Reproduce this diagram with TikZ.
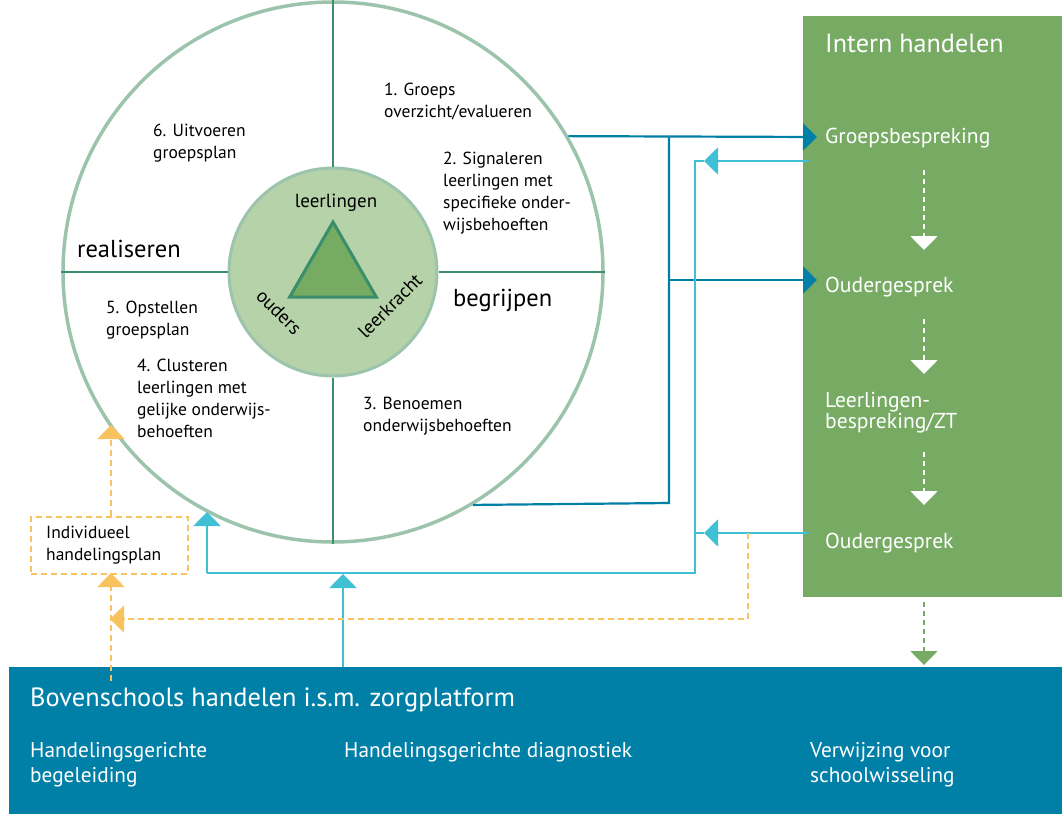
\documentclass[tikz,border=0pt]{standalone}
\usepackage{fontspec}
\setmainfont{PT Sans}
\usetikzlibrary{arrows.meta,shapes.geometric}
\definecolor{ringc}{HTML}{9CC4AD}
\definecolor{divc}{HTML}{3D8F6C}
\definecolor{hubc}{HTML}{B6D2A8}
\definecolor{trifill}{HTML}{75AB62}
\definecolor{tridraw}{HTML}{3A8E6B}
\definecolor{intern}{HTML}{77AB64}
\definecolor{boven}{HTML}{0080A7}
\definecolor{lichtb}{HTML}{40C0D5}
\definecolor{oranje}{HTML}{F8C25F}
\begin{document}
\begin{tikzpicture}[x=1pt,y=-1pt,
    txt/.style={anchor=base west,inner sep=0,align=left,font=\fontsize{17.5}{21.7}\selectfont},
    wit/.style={txt,text=white,font=\fontsize{21.6}{21}\selectfont},
    tip/.style={-{Triangle[length=14pt,width=27pt]}},
    donker/.style={draw=boven,line width=2.2pt},
    licht/.style={draw=lichtb,line width=2pt},
    oranjelijn/.style={draw=oranje,line width=1.8pt,dash pattern=on 6pt off 4pt},
    witlijn/.style={draw=white,line width=1.8pt,dash pattern=on 5pt off 4pt}]
  \useasboundingbox (0,0) rectangle (1062,814);
  % vakken (tekst: baseline van de laatste regel)
  \node[fill=intern,inner sep=0,minimum width=259pt,minimum height=581pt,anchor=north west] (ih) at (803,16) {};
  \node[fill=boven,inner sep=0,minimum width=1053pt,minimum height=147pt,anchor=north west] (bh) at (9,667) {};
  \node[wit,font=\fontsize{26.2}{26}\selectfont] (ihtitel) at (825,52) {Intern handelen};
  \node[wit] (gb) at (825,143) {Groepsbespreking};
  \node[wit] (og1) at (825,292) {Oudergesprek};
  \node[wit] (lb) at (825,428) {Leerlingen-\\bespreking/ZT};
  \node[wit] (og2) at (825,548) {Oudergesprek};
  \node[wit,font=\fontsize{26.4}{26}\selectfont] (bhtitel) at (30,706) {Bovenschools handelen i.s.m. zorgplatform};
  \node[wit,font=\fontsize{21.3}{25}\selectfont] (hb) at (30,782) {Handelingsgerichte\\begeleiding};
  \node[wit,font=\fontsize{21.3}{25}\selectfont] (hd) at (344,757) {Handelingsgerichte diagnostiek};
  \node[wit,font=\fontsize{21.3}{25}\selectfont] (vs) at (810,782) {Verwijzing voor\\schoolwisseling};
  % wiel
  \coordinate (mid) at (333,272);
  \node[circle,draw=ringc,line width=3.5pt,minimum size=540pt,inner sep=0] (wiel) at (mid) {};
  \node[circle,fill=hubc,draw=ringc,line width=3pt,minimum size=208pt,inner sep=0] (hub) at (mid) {};
  \draw[divc,line width=2pt] (wiel.north) -- (hub.north) (hub.south) -- (wiel.south)
    (wiel.west) -- (hub.west) (hub.east) -- (wiel.east);
  \node[regular polygon,regular polygon sides=3,fill=trifill,draw=tridraw,line width=3pt,minimum size=100pt,inner sep=0] (drie) at (mid) {};
  \node[font=\fontsize{19}{19}\selectfont,anchor=base] (ll) at (336,207) {leerlingen};
  \node[font=\fontsize{19}{19}\selectfont,rotate=-45] (ou) at (279,312) {ouders};
  \node[font=\fontsize{19}{19}\selectfont,rotate=45] (lk) at (390,306) {leerkracht};
  \node[txt] (s1) at (384,117) {1. Groeps\\overzicht/evalueren};
  \node[txt] (s2) at (443,230) {2. Signaleren\\leerlingen met\\specifieke onder-\\wijsbehoeften};
  \node[txt] (s3) at (363,431) {3. Benoemen\\onderwijsbehoeften};
  \node[txt] (s4) at (137,437) {4. Clusteren\\leerlingen met\\gelijke onderwijs-\\behoeften};
  \node[txt] (s5) at (106,335) {5. Opstellen\\groepsplan};
  \node[txt] (s6) at (153,158) {6. Uitvoeren\\groepsplan};
  \node[txt,font=\fontsize{24.5}{24}\selectfont] (rl) at (77,257) {realiseren};
  \node[txt,font=\fontsize{24.5}{24}\selectfont] (bg) at (453,306) {begrijpen};
  % individueel handelingsplan
  \node[draw=oranje,line width=1.8pt,dash pattern=on 6pt off 4pt,minimum width=157pt,minimum height=57pt,anchor=north west,inner sep=0] (ihp) at (30,516) {};
  \node[txt] (ihptekst) at (46,560) {Individueel\\handelingsplan};
  % donkerblauw
  \coordinate (kt) at (669,137);
  \coordinate (km) at (669,280);
  \coordinate (kb) at (669,503);
  \coordinate (pgb) at (817,137);
  \coordinate (pog) at (817,280);
  \draw[donker] (wiel.-59) -- (kb) -- (kt);
  \draw[donker,tip] (wiel.30) -- (pgb);
  \draw[donker,tip] (km) -- (pog);
  % lichtblauw
  \coordinate (lr1) at (809,161);
  \coordinate (lp1) at (704,161);
  \coordinate (lh) at (695,161);
  \coordinate (lr2) at (809,533);
  \coordinate (lp2) at (704,533);
  \coordinate (lo) at (695,573);
  \coordinate (lw) at (207,573);
  \coordinate (lwp) at (207,512);
  \coordinate (lb0) at (343,667);
  \coordinate (lb1) at (343,574);
  \draw[licht,tip] (lr1) -- (lp1);
  \draw[licht] (lp1) -- (lh) -- (lo) -- (lw);
  \draw[licht,tip] (lr2) -- (lp2);
  \draw[licht] (lp2) -- (lp2 -| lo);
  \draw[licht,tip] (lw) -- (lwp);
  \draw[licht,tip] (lb0) -- (lb1);
  % oranje
  \coordinate (o1) at (111,516);
  \coordinate (o2) at (111,425);
  \coordinate (o3) at (111,681);
  \coordinate (o4) at (111,573);
  \coordinate (o5) at (748,533);
  \coordinate (o6) at (748,619);
  \coordinate (o7) at (110,619);
  \draw[oranjelijn,tip] (o1) -- (o2);
  \draw[oranjelijn,tip] (o3) -- (o4);
  \draw[oranjelijn,tip] (o5) -- (o6) -- (o7);
  % stippellijnen in het groene vak
  \coordinate (w1) at (924,170);
  \coordinate (w2) at (924,250);
  \coordinate (w3) at (924,319);
  \coordinate (w4) at (924,374);
  \coordinate (w5) at (924,452);
  \coordinate (w6) at (924,505);
  \coordinate (w7) at (924,602);
  \coordinate (w8) at (924,665);
  \draw[witlijn,tip] (w1) -- (w2);
  \draw[witlijn,tip] (w3) -- (w4);
  \draw[witlijn,tip] (w5) -- (w6);
  \draw[witlijn,draw=intern,tip] (w7) -- (w8);
\end{tikzpicture}
\end{document}
